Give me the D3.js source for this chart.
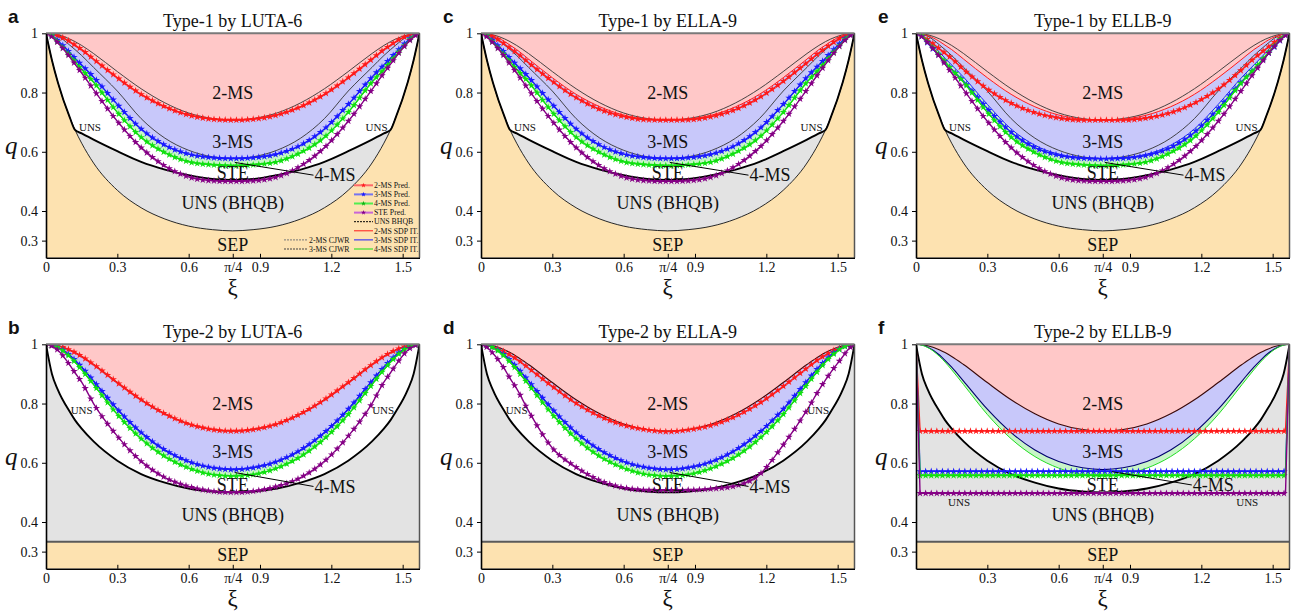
<!DOCTYPE html>
<html>
<head>
<meta charset="utf-8">
<script src="https://cdn.jsdelivr.net/npm/d3@7"></script>
<style>
  body { margin: 0; background: #fff; }
  svg text { font-family: "Liberation Serif", "Times New Roman", serif; fill: #111; }
</style>
</head>
<body>
<svg id="chart" width="1294" height="611"></svg>
<script>
// ---- data: q thresholds on a shared xi grid ----
const xiGrid = [0, 0.025, 0.05, 0.1, 0.122, 0.15, 0.2, 0.3, 0.4, 0.5, 0.6, 0.7, 0.785,
                0.871, 0.971, 1.071, 1.171, 1.271, 1.371, 1.421, 1.449, 1.471, 1.521, 1.546, 1.571];

// Type-1 benchmarks
const cjwr2 = [1, 0.9988, 0.995, 0.9808, 0.972, 0.959, 0.9317, 0.8708, 0.8128, 0.7652, 0.7309, 0.7122, 0.7071,
               0.7122, 0.7309, 0.7652, 0.8128, 0.8708, 0.9317, 0.959, 0.972, 0.9808, 0.995, 0.9988, 1];
const cjwr3 = [1, 0.997, 0.990, 0.960, 0.945, 0.925, 0.885, 0.805, 0.712, 0.646, 0.605, 0.583, 0.577,
               0.583, 0.605, 0.646, 0.712, 0.805, 0.885, 0.925, 0.945, 0.960, 0.990, 0.997, 1];
const t1Ms2 = [1, 0.998, 0.992, 0.972, 0.960, 0.945, 0.913, 0.850, 0.794, 0.752, 0.724, 0.710, 0.707,
               0.710, 0.724, 0.752, 0.794, 0.850, 0.913, 0.945, 0.960, 0.972, 0.992, 0.998, 1];
const t1Ms3 = [1, 0.993, 0.975, 0.935, 0.916, 0.893, 0.852, 0.760, 0.677, 0.622, 0.592, 0.580, 0.577,
               0.580, 0.592, 0.622, 0.677, 0.760, 0.852, 0.893, 0.916, 0.935, 0.975, 0.993, 1];
const t1Ms4 = [1, 0.992, 0.970, 0.925, 0.904, 0.878, 0.835, 0.733, 0.649, 0.597, 0.566, 0.556, 0.553,
               0.556, 0.566, 0.597, 0.649, 0.733, 0.835, 0.878, 0.904, 0.925, 0.970, 0.992, 1];
const t1Ste = [1, 0.988, 0.968, 0.920, 0.896, 0.866, 0.810, 0.703, 0.614, 0.552, 0.515, 0.502, 0.500,
               0.502, 0.515, 0.552, 0.614, 0.703, 0.810, 0.866, 0.896, 0.920, 0.968, 0.988, 1];
const t1Bhqb = [1, 0.909, 0.834, 0.716, 0.674, 0.662, 0.641, 0.602, 0.566, 0.540, 0.521, 0.508, 0.505,
                0.508, 0.521, 0.540, 0.566, 0.602, 0.641, 0.662, 0.674, 0.716, 0.834, 0.909, 1];
const t1Sep = [1, 0.909, 0.834, 0.716, 0.674, 0.629, 0.562, 0.470, 0.411, 0.373, 0.349, 0.337, 0.333,
               0.337, 0.349, 0.373, 0.411, 0.470, 0.562, 0.629, 0.674, 0.716, 0.834, 0.909, 1];

// Type-2 benchmarks
const t2Ms2 = cjwr2;
const t2Ms3 = [1, 0.9975, 0.990, 0.963, 0.946, 0.923, 0.876, 0.781, 0.702, 0.643, 0.604, 0.583, 0.577,
               0.583, 0.604, 0.643, 0.702, 0.781, 0.876, 0.923, 0.946, 0.963, 0.990, 0.9975, 1];
const t2Ms4 = [1, 0.997, 0.989, 0.958, 0.940, 0.914, 0.864, 0.763, 0.681, 0.621, 0.582, 0.560, 0.555,
               0.560, 0.582, 0.621, 0.681, 0.763, 0.864, 0.914, 0.940, 0.958, 0.989, 0.997, 1];
const t2Ste = [1, 0.994, 0.980, 0.930, 0.904, 0.872, 0.800, 0.690, 0.605, 0.550, 0.520, 0.504, 0.500,
               0.504, 0.520, 0.550, 0.605, 0.690, 0.800, 0.872, 0.904, 0.930, 0.980, 0.994, 1];
const t2Bhqb = [1, 0.900, 0.846, 0.772, 0.744, 0.715, 0.672, 0.607, 0.562, 0.533, 0.513, 0.503, 0.500,
                0.503, 0.513, 0.533, 0.562, 0.607, 0.672, 0.715, 0.744, 0.772, 0.846, 0.900, 1];
const t2SepLevel = 1 / 3;

// network predictions that differ from the benchmarks
const predCMs2 = [1, 0.996, 0.988, 0.963, 0.950, 0.934, 0.901, 0.838, 0.783, 0.743, 0.719, 0.708, 0.707,
                  0.708, 0.719, 0.743, 0.783, 0.838, 0.901, 0.934, 0.950, 0.963, 0.988, 0.996, 1];
const predEMs2 = [1, 0.993, 0.978, 0.947, 0.933, 0.915, 0.878, 0.812, 0.764, 0.732, 0.714, 0.707, 0.707,
                  0.707, 0.714, 0.732, 0.764, 0.812, 0.878, 0.915, 0.933, 0.947, 0.978, 0.993, 1];
const predEMs3 = [1, 0.989, 0.966, 0.922, 0.902, 0.879, 0.838, 0.746, 0.666, 0.614, 0.588, 0.578, 0.576,
                  0.578, 0.588, 0.614, 0.666, 0.746, 0.838, 0.879, 0.902, 0.922, 0.966, 0.989, 1];
const predDMs2 = [1, 0.997, 0.991, 0.974, 0.964, 0.950, 0.920, 0.858, 0.801, 0.757, 0.727, 0.711, 0.705,
                  0.711, 0.727, 0.757, 0.801, 0.858, 0.920, 0.950, 0.964, 0.974, 0.991, 0.997, 1];
const predDSte = [1, 0.990, 0.970, 0.915, 0.885, 0.850, 0.775, 0.650, 0.585, 0.540, 0.516, 0.508, 0.507,
                  0.508, 0.512, 0.522, 0.560, 0.660, 0.778, 0.845, 0.880, 0.905, 0.958, 0.984, 1];
const predFXi = [0, 0.017, 1.554, 1.571];
const predFMs2 = [1, 0.707, 0.707, 1];
const predFMs3 = [1, 0.571, 0.571, 1];
const predFMs4 = [1, 0.557, 0.557, 1];
const predFSte = [1, 0.497, 0.497, 1];

const panelKeys = ["a", "b", "c", "d", "e", "f"];
const panelTitles = ["Type-1 by LUTA-6", "Type-2 by LUTA-6", "Type-1 by ELLA-9",
                     "Type-2 by ELLA-9", "Type-1 by ELLB-9", "Type-2 by ELLB-9"];
const regionNames = ["2-MS", "3-MS", "STE", "UNS (BHQB)", "SEP"];
const xTicks = [0, 0.3, 0.6, Math.PI / 4, 0.9, 1.2, 1.5];
const xTickLabels = ["0", "0.3", "0.6", "\u03C0/4", "0.9", "1.2", "1.5"];
const yTicks = [0.3, 0.4, 0.6, 0.8, 1];
const yTickLabels = ["0.3", "0.4", "0.6", "0.8", "1"];
const legendRight = ["2-MS Pred.", "3-MS Pred.", "4-MS Pred.", "STE Pred.", "UNS BHQB",
                     "2-MS SDP IT.", "3-MS SDP IT.", "4-MS SDP IT."];
const legendLeft = ["2-MS CJWR", "3-MS CJWR"];

// ---- layout ----
const colLeft = [46, 481, 916];
const rowTop = [33.3, 344.3];
const plotW = 373.5, plotH = 224.5;
const qMin = 0.242;

const colors = {
  ms2: "#ff1a1a", ms3: "#1a1aff", ms4: "#10e010", ste: "#850085",
  pink: "#ffc8c8", lav: "#c8c8fa", lgreen: "#c8f5c8", uns: "#e3e3e3", sep: "#fde2b0"
};

const svg = d3.select("#chart");
const x = d3.scaleLinear().domain([0, Math.PI / 2]).range([0, plotW]);
const y = d3.scaleLinear().domain([qMin, 1]).range([plotH, 0]);

const pick = (v, i) => (typeof v === "number" ? v : v[i]);
function bandPath(xs, lo, hi) {
  return d3.area()
    .x((d, i) => x(xs[i]))
    .y0((d, i) => y(pick(lo, i)))
    .y1((d, i) => y(pick(hi, i)))
    .curve(d3.curveMonotoneX)(xs);
}
function linePath(xs, qs, curve) {
  return d3.line()
    .x((d, i) => x(xs[i]))
    .y((d, i) => y(qs[i]))
    .curve(curve || d3.curveMonotoneX)(xs);
}

// markers spaced evenly in x along an already drawn path
function starPoints(node, fromX, step) {
  const L = node.getTotalLength();
  const endX = node.getPointAtLength(L).x;
  const pts = [];
  for (let px = fromX; px <= endX + 0.01; px += step) {
    let lo = 0, hi = L;
    for (let k = 0; k < 22; k++) {
      const mid = (lo + hi) / 2;
      if (node.getPointAtLength(mid).x < px) lo = mid; else hi = mid;
    }
    pts.push(node.getPointAtLength(hi));
  }
  return pts;
}
const star = d3.symbol(d3.symbolStar, 17);

const panels = [
  { col: 0, row: 0, type: 1, pred: [[xiGrid, t1Ms2], [xiGrid, t1Ms3], [xiGrid, t1Ms4], [xiGrid, t1Ste]], legend: true },
  { col: 0, row: 1, type: 2, pred: [[xiGrid, t2Ms2], [xiGrid, t2Ms3], [xiGrid, t2Ms4], [xiGrid, t2Ste]] },
  { col: 1, row: 0, type: 1, pred: [[xiGrid, predCMs2], [xiGrid, t1Ms3], [xiGrid, t1Ms4], [xiGrid, t1Ste]] },
  { col: 1, row: 1, type: 2, pred: [[xiGrid, predDMs2], [xiGrid, t2Ms3], [xiGrid, t2Ms4], [xiGrid, predDSte]] },
  { col: 2, row: 0, type: 1, pred: [[xiGrid, predEMs2], [xiGrid, predEMs3], [xiGrid, t1Ms4], [xiGrid, t1Ste]] },
  { col: 2, row: 1, type: 2, flat: true,
    pred: [[predFXi, predFMs2], [predFXi, predFMs3], [predFXi, predFMs4], [predFXi, predFSte]] }
];

panels.forEach((p, pi) => {
  const g = svg.append("g").attr("transform", `translate(${colLeft[p.col]},${rowTop[p.row]})`);
  const clipId = "clip" + pi;
  g.append("clipPath").attr("id", clipId)
    .append("rect").attr("width", plotW).attr("height", plotH);
  const body = g.append("g").attr("clip-path", `url(#${clipId})`);

  body.append("rect").attr("width", plotW).attr("height", plotH).attr("fill", "#fff");
  const fill = (d, c) => body.append("path").attr("d", d).attr("fill", c).attr("stroke", "none");
  const stroke = (d, c, w, dash) => body.append("path").attr("d", d).attr("fill", "none")
    .attr("stroke", c).attr("stroke-width", w).attr("stroke-dasharray", dash || null);

  if (p.type === 1) {
    fill(bandPath(xiGrid, qMin, t1Sep), colors.sep);
    fill(bandPath(xiGrid, t1Sep, t1Bhqb), colors.uns);
    fill(bandPath(xiGrid, t1Ms2, 1), colors.pink);
    fill(bandPath(xiGrid, t1Ms3, t1Ms2), colors.lav);
    fill(bandPath(xiGrid, t1Ms4, t1Ms3), colors.lgreen);
    stroke(linePath(xiGrid, t1Sep), "#111", 0.9);
    stroke(linePath(xiGrid, t1Bhqb), "#000", 1.9);
    stroke(linePath(xiGrid, cjwr2), "#333", 0.9);
    stroke(linePath(xiGrid, cjwr3), "#333", 0.9);
    stroke(linePath(xiGrid, t1Ms2), colors.ms2, 1);
    stroke(linePath(xiGrid, t1Ms3), colors.ms3, 1);
    stroke(linePath(xiGrid, t1Ms4), colors.ms4, 1);
  } else {
    fill(bandPath(xiGrid, qMin, t2SepLevel), colors.sep);
    fill(bandPath(xiGrid, t2SepLevel, t2Bhqb), colors.uns);
    fill(bandPath(xiGrid, t2Ms2, 1), colors.pink);
    fill(bandPath(xiGrid, t2Ms3, t2Ms2), colors.lav);
    fill(bandPath(xiGrid, t2Ms4, t2Ms3), colors.lgreen);
    body.append("line").attr("x1", 0).attr("x2", plotW)
      .attr("y1", y(t2SepLevel)).attr("y2", y(t2SepLevel))
      .attr("stroke", "#5a5a5a").attr("stroke-width", 2);
    stroke(linePath(xiGrid, t2Bhqb), "#000", 1.9);
    stroke(linePath(xiGrid, t2Ms2), "#3a0808", 1.1);
    stroke(linePath(xiGrid, t2Ms3), "#00006e", 1.1);
    stroke(linePath(xiGrid, t2Ms4), "#22dd22", 1);
  }

  // predictions: line + star markers
  const predColors = [colors.ms2, colors.ms3, colors.ms4, colors.ste];
  p.pred.forEach(([xs, qs], k) => {
    const path = stroke(linePath(xs, qs, p.flat ? d3.curveLinear : d3.curveMonotoneX), predColors[k], 1.4);
    const fromX = p.flat ? x(xs[1]) : 0;
    body.append("g").selectAll("path")
      .data(starPoints(path.node(), fromX, 5.6))
      .join("path")
      .attr("d", star)
      .attr("transform", d => `translate(${d.x},${d.y})`)
      .attr("fill", predColors[k]);
  });

  // region labels
  const labelQ = p.type === 1 ? [0.8, 0.634, 0.528, 0.427, 0.286] : [0.801, 0.638, 0.526, 0.424, 0.289];
  regionNames.forEach((t, k) => {
    g.append("text").attr("x", x(Math.PI / 4)).attr("y", y(labelQ[k])).attr("dy", "0.35em")
      .attr("text-anchor", "middle").attr("font-size", 18).text(t);
  });
  // 4-MS label with leader
  const lead = p.flat ? [0.824, 0.57, 1.16, 0.525] : p.type === 1 ? [0.794, 0.564, 1.125, 0.521] : [0.794, 0.567, 1.125, 0.52];
  g.append("line").attr("x1", x(lead[0])).attr("y1", y(lead[1])).attr("x2", x(lead[2])).attr("y2", y(lead[3]))
    .attr("stroke", "#000").attr("stroke-width", 1);
  g.append("text").attr("x", x(lead[2]) + 1).attr("y", y(lead[3])).attr("dy", "0.35em")
    .attr("font-size", 18).text("4-MS");
  // small UNS labels
  const uns = p.flat ? [[0.181, 0.466], [1.393, 0.466]] : p.type === 1 ? [[0.185, 0.684], [1.39, 0.684]] : [[0.15, 0.778], [1.418, 0.778]];
  uns.forEach(([ux, uq]) => {
    g.append("text").attr("x", x(ux)).attr("y", y(uq)).attr("dy", "0.35em")
      .attr("text-anchor", "middle").attr("font-size", 11).text("UNS");
  });

  // frame
  g.append("line").attr("x1", 0).attr("x2", plotW).attr("y1", 0).attr("y2", 0)
    .attr("stroke", "#7a7a7a").attr("stroke-width", 2);
  g.append("line").attr("x1", plotW).attr("x2", plotW).attr("y1", 0).attr("y2", plotH)
    .attr("stroke", "#555").attr("stroke-width", 1.5);

  // axes
  const xAxis = d3.axisBottom(x).tickValues(xTicks)
    .tickFormat((d, i) => (p.flat && i === 0 ? "" : xTickLabels[i]))
    .tickSizeInner(-4).tickSizeOuter(0).tickPadding(4);
  const yAxis = d3.axisLeft(y).tickValues(yTicks)
    .tickFormat((d, i) => yTickLabels[i]).tickSizeInner(4).tickSizeOuter(0).tickPadding(4);
  const gx = g.append("g").attr("transform", `translate(0,${plotH})`).call(xAxis);
  const gy = g.append("g").call(yAxis);
  [gx, gy].forEach(a => {
    a.attr("font-family", null).attr("font-size", null);
    a.select(".domain").attr("stroke", "#000").attr("stroke-width", 1.6);
    a.selectAll(".tick line").attr("stroke", "#000");
    a.selectAll(".tick text").attr("font-size", 14).attr("fill", "#111");
  });

  // titles and axis names
  g.append("text").attr("x", plotW / 2).attr("y", -6.5).attr("text-anchor", "middle")
    .attr("font-size", 18).text(panelTitles[pi]);
  g.append("text").attr("x", -38).attr("y", -10.5)
    .style("font-family", "'Liberation Sans', Arial, sans-serif").attr("font-weight", "bold")
    .attr("font-size", 19).text(panelKeys[pi]);
  g.append("text").attr("x", -41).attr("y", 121).attr("font-style", "italic")
    .attr("font-size", 25).text("q");
  g.append("text").attr("x", x(Math.PI / 4)).attr("y", plotH + 37).attr("text-anchor", "middle")
    .attr("font-size", 23).text("\u03BE");

  if (p.legend) {
    const lg = g.append("g").attr("font-size", 7.8);
    const legColors = ["#ff6a6a", "#7474f0", "#50ee50", "#c865d8", "#000", colors.ms2, colors.ms3, colors.ms4];
    const starColors = [colors.ms2, colors.ms3, "#10b010", colors.ste];
    legendRight.forEach((t, k) => {
      const ly = 152 + k * 9.1;
      lg.append("line").attr("x1", 308).attr("x2", 327).attr("y1", ly).attr("y2", ly)
        .attr("stroke", legColors[k]).attr("stroke-width", k < 4 ? 2 : 1)
        .attr("stroke-dasharray", k === 4 ? "2,1" : null);
      if (k < 4) {
        lg.append("path").attr("d", d3.symbol(d3.symbolStar, 8)())
          .attr("transform", `translate(317.5,${ly})`).attr("fill", starColors[k]);
      }
      lg.append("text").attr("x", 328).attr("y", ly).attr("dy", "0.35em").text(t);
    });
    legendLeft.forEach((t, k) => {
      const ly = 152 + (k + 6) * 9.1;
      lg.append("line").attr("x1", 238).attr("x2", 262).attr("y1", ly).attr("y2", ly)
        .attr("stroke", k === 0 ? "#777" : "#444").attr("stroke-width", 1)
        .attr("stroke-dasharray", "2,1");
      lg.append("text").attr("x", 263).attr("y", ly).attr("dy", "0.35em").text(t);
    });
  }
});
</script>
</body>
</html>
